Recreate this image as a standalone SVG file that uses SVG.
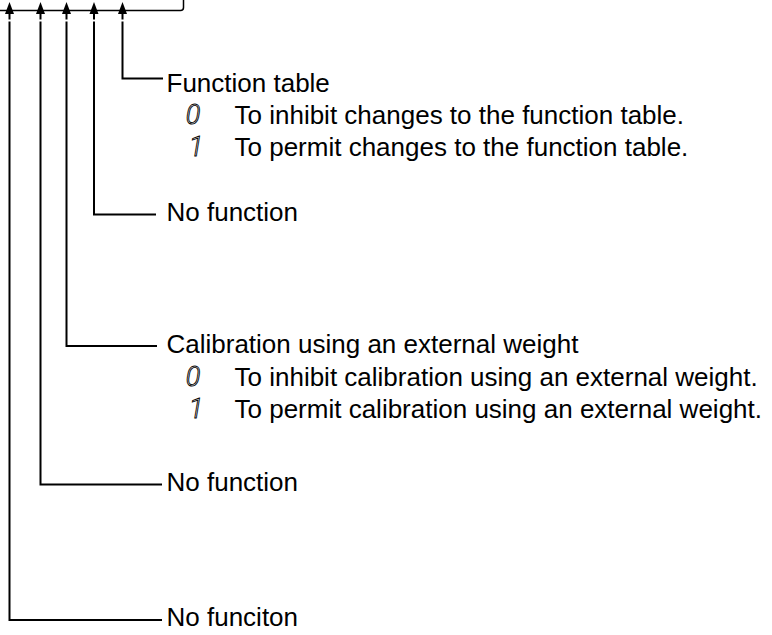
<svg xmlns="http://www.w3.org/2000/svg" width="772" height="635" viewBox="0 0 772 635">
<style>
  .ln{fill:none;stroke:#000;stroke-width:2;stroke-linejoin:miter;stroke-linecap:butt}
  .top{fill:none;stroke:#000;stroke-width:1.5}
  .ah{fill:#000;stroke:none}
  .t{font-family:"Liberation Sans",Arial,sans-serif;font-size:26px;fill:#000}
  .d{font-family:Roboto,"Liberation Sans",sans-serif;font-size:27px;font-style:italic;font-weight:300;fill:none;stroke:#000;stroke-width:0.9}
</style>
<defs>
  <path id="head" class="ah" d="M0 0 L4.5 12 L-4.5 12 Z"/>
</defs>
<g id="connectors">
  <path class="top" d="M0 10.5 H180.5 Q183.5 10.5 183.5 7.5 V0"/>
  <g id="arrows">
    <path class="ln" d="M9.5 19.5 V10"/><use href="#head" x="9.5" y="2"/>
    <path class="ln" d="M40.5 19.5 V10"/><use href="#head" x="40.5" y="2"/>
    <path class="ln" d="M66.5 19.5 V10"/><use href="#head" x="66.5" y="2"/>
    <path class="ln" d="M94 19.5 V10"/><use href="#head" x="94" y="2"/>
    <path class="ln" d="M122.5 19.5 V10"/><use href="#head" x="122.5" y="2"/>
  </g>
  <path class="ln" d="M122.5 21.5 V78.5 H163"/>
  <path class="ln" d="M94 21.5 V214.5 H156"/>
  <path class="ln" d="M66.5 21.5 V346 H157"/>
  <path class="ln" d="M40.5 21.5 V484.5 H162"/>
  <path class="ln" d="M9.5 21.5 V620 H162"/>
</g>
<g id="function-table">
  <text class="t" x="166.5" y="92">Function table</text>
  <text class="d" x="193" y="124" text-anchor="middle">0</text>
  <text class="t" x="234.5" y="124">To inhibit changes to the function table.</text>
  <text class="d" x="196" y="156" text-anchor="middle">1</text>
  <text class="t" x="234.5" y="156">To permit changes to the function table.</text>
</g>
<g id="no-function-1">
  <text class="t" x="166.5" y="221">No function</text>
</g>
<g id="calibration">
  <text class="t" x="166.5" y="353">Calibration using an external weight</text>
  <text class="d" x="193" y="386" text-anchor="middle">0</text>
  <text class="t" x="234.5" y="386">To inhibit calibration using an external weight.</text>
  <text class="d" x="196" y="418" text-anchor="middle">1</text>
  <text class="t" x="234.5" y="418">To permit calibration using an external weight.</text>
</g>
<g id="no-function-2">
  <text class="t" x="166.5" y="491">No function</text>
</g>
<g id="no-funciton">
  <text class="t" x="166.5" y="626">No funciton</text>
</g>
</svg>
